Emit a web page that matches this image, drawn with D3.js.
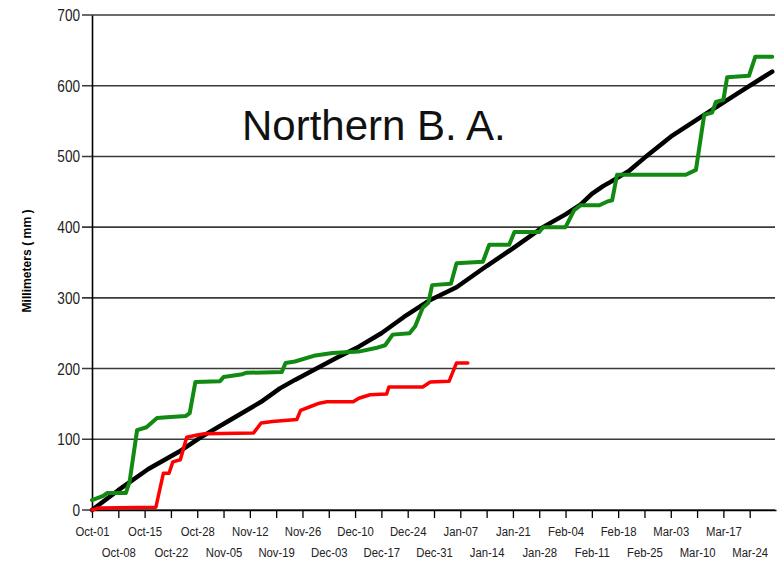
<!doctype html>
<html>
<head>
    <style>
        body {
            margin: 0;
            background: #fff;
        }

        .axis text {
            font-family: "Liberation Sans", Arial, sans-serif;
            fill: #222;
        }

        .grid line {
            stroke: #3a3a3a;
            stroke-width: 1.6;
        }

        .series {
            fill: none;
            stroke-linejoin: round;
            stroke-linecap: round;
        }
    </style>
    <script src="https://d3js.org/d3.v7.min.js"></script>
</head>
<body>
<svg width="779" height="564"></svg>
<script>

    // days after Oct-01 and accumulated rainfall (mm)
    var normalDays = [0, 7, 15, 23, 29, 37, 45, 50, 54, 59, 65, 71, 77, 83, 90, 97, 105, 112, 120, 126, 130, 133, 136, 138, 143, 147, 154, 163, 172, 181];
    var normalMm   = [0, 28, 58, 82, 103, 128, 153, 172, 184, 198, 215, 231, 250, 273, 297, 315, 345, 370, 400, 418, 432, 447, 458, 464, 480, 498, 528, 559, 590, 620];

    var greenDays = [0, 3, 4, 9, 10, 12, 14.5, 17.3, 20, 25, 26, 27.5, 34, 35, 40, 41, 50.5, 51.5, 54, 59, 64, 71, 75.5, 78, 80, 84.5, 86, 88, 89.5, 90.5, 95.5, 97, 104, 105.7, 111, 112.4, 119, 120, 126, 128.3, 130, 135, 137, 138.4, 139.7, 158, 160.7, 162.9, 165, 166, 168, 169, 174.8, 176.5, 181];
    var greenMm   = [14, 20, 24, 24, 40, 113, 117, 130, 131, 133, 137, 181, 182, 188, 192, 194, 195, 208, 210, 218, 222, 224, 229, 233, 248, 250, 260, 286, 293, 318, 320, 349, 351, 375, 375, 393, 393, 400, 400, 424, 431, 431, 436, 438, 474, 474, 481, 559, 562, 577, 580, 612, 614, 641, 641];

    var redDays = [0, 2, 17, 19, 20.5, 21.5, 23.5, 25.2, 28, 30, 43, 45, 48, 54.5, 55.5, 58, 60.5, 62.5, 69.5, 71, 74, 78.4, 79, 88, 90, 95, 97, 100];
    var redMm   = [0, 3, 4, 52, 52, 68, 71, 103, 106, 108, 109, 123, 125, 128, 141, 146, 151, 153, 153, 158, 163, 164, 174, 174, 181, 182, 208, 208];

    var xTickLabels = ["Oct-01", "Oct-08", "Oct-15", "Oct-22", "Oct-28", "Nov-05", "Nov-12", "Nov-19", "Nov-26", "Dec-03",
        "Dec-10", "Dec-17", "Dec-24", "Dec-31", "Jan-07", "Jan-14", "Jan-21", "Jan-28", "Feb-04", "Feb-11",
        "Feb-18", "Feb-25", "Mar-03", "Mar-10", "Mar-17", "Mar-24"];
    var yTicks = [0, 100, 200, 300, 400, 500, 600, 700];

    var svg = d3.select("svg");
    var start = new Date(2015, 9, 1),
        end = new Date(2016, 2, 31);

    var x = d3.scaleTime().domain([start, end]).range([92, 776]),
        y = d3.scaleLinear().domain([0, 700]).range([510, 15]);

    var tickDates = xTickLabels.map(function(d, i) { return d3.timeDay.offset(start, i * 7); });

    // horizontal grid
    svg.append("g")
        .attr("class", "grid")
        .selectAll("line")
        .data(yTicks)
        .enter().append("line")
        .attr("x1", 82)
        .attr("x2", 775)
        .attr("y1", function(d) { return y(d); })
        .attr("y2", function(d) { return y(d); });

    // left axis (labels squeezed a bit, like the narrow font of the original)
    var yAxis = svg.append("g")
        .attr("class", "axis")
        .attr("transform", "translate(92,0)")
        .call(d3.axisLeft(y).tickValues(yTicks).tickSize(0).tickPadding(15));
    yAxis.select(".domain").attr("stroke", "#000").attr("stroke-width", 1.6);
    yAxis.selectAll("text")
        .style("font-size", "17px")
        .attr("transform", "scale(0.8,1)");

    // bottom axis, labels on two staggered rows
    var xAxis = svg.append("g")
        .attr("class", "axis")
        .attr("transform", "translate(0,510)")
        .call(d3.axisBottom(x).tickValues(tickDates).tickSize(8).tickSizeOuter(0)
            .tickFormat(function(d, i) { return xTickLabels[i]; }));
    xAxis.select(".domain").attr("stroke", "#000").attr("stroke-width", 1.6);
    xAxis.selectAll(".tick line").attr("stroke", "#000").attr("stroke-width", 1.3);
    xAxis.selectAll("text")
        .style("font-size", "13.5px")
        .attr("transform", "scale(0.84,1)")
        .attr("y", function(d, i) { return i % 2 === 0 ? 16.5 : 37.5; });

    svg.append("text")
        .attr("transform", "translate(31,261) rotate(-90) scale(0.9,1)")
        .attr("text-anchor", "middle")
        .style("font-family", "'Liberation Sans', Arial, sans-serif")
        .style("font-weight", "bold")
        .style("font-size", "13.5px")
        .text("Millimeters ( mm )");

    svg.append("text")
        .attr("x", 242)
        .attr("y", 140)
        .style("font-family", "'Liberation Sans', Arial, sans-serif")
        .style("font-size", "42px")
        .attr("fill", "#111")
        .text("Northern B. A.");

    function pts(days, vals) {
        return days.map(function(d, i) { return [start.getTime() + d * 864e5, vals[i]]; });
    }

    var line = d3.line()
        .x(function(d) { return x(new Date(d[0])); })
        .y(function(d) { return y(d[1]); });

    svg.append("path")
        .attr("class", "series")
        .attr("d", line(pts(normalDays, normalMm)))
        .attr("stroke", "#000")
        .attr("stroke-width", 4.5);

    svg.append("path")
        .attr("class", "series")
        .attr("d", line(pts(greenDays, greenMm)))
        .attr("stroke", "#108a10")
        .attr("stroke-width", 4);

    svg.append("path")
        .attr("class", "series")
        .attr("d", line(pts(redDays, redMm)))
        .attr("stroke", "#ff0000")
        .attr("stroke-width", 3.5);

</script>
</body>
</html>
